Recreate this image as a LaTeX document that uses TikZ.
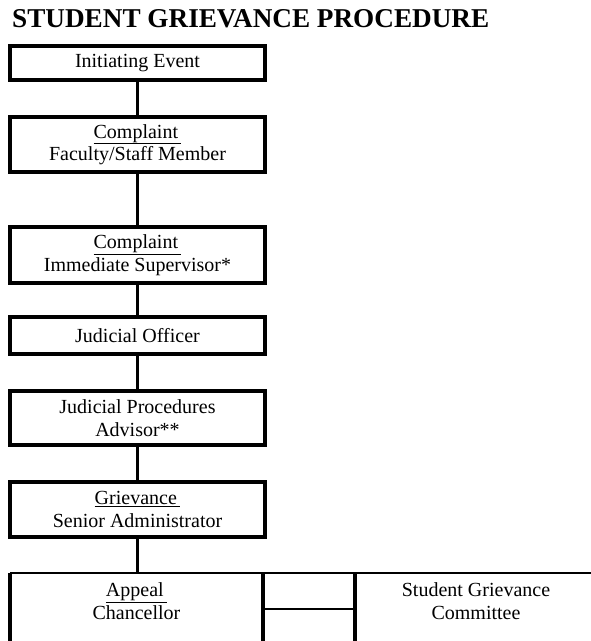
\documentclass[tikz,border=0pt]{standalone}
\usepackage{fontspec}
\setmainfont{Liberation Serif}
\begin{document}
\begin{tikzpicture}[x=1pt,y=1pt]
\tikzset{
  box/.style={draw, line width=3.4pt, inner sep=0pt, outer sep=0pt, align=center,
              minimum width=255pt, font=\fontsize{20}{22.5}\selectfont},
  openbox/.style={inner sep=0pt, outer sep=0pt, minimum height=72pt},
  txt/.style={inner sep=0pt, align=center, font=\fontsize{20}{22.5}\selectfont},
  link/.style={line width=3pt},
  thinline/.style={line width=2.4pt},
  sideline/.style={line width=3.6pt},
  titlefont/.style={font=\fontsize{27.2}{30}\bfseries\selectfont}
}
\useasboundingbox (0,0) rectangle (591,641);
\clip (0,0) rectangle (591,641);
\fill[white] (0,0) rectangle (591,641);

\node[titlefont, anchor=base west, inner sep=0pt] (title) at (12,613) {STUDENT GRIEVANCE PROCEDURE};

\node[box, minimum height=34pt] (b1) at (137.5,578) {Initiating Event};
\node[box, minimum height=55pt] (b2) at (137.5,496.5) {\underline{Complaint\,}\\Faculty/Staff Member};
\node[box, minimum height=56pt] (b3) at (137.5,386) {\underline{Complaint\,}\\Immediate Supervisor*};
\node[box, minimum height=37pt] (b4) at (137.5,305.5) {Judicial Officer};
\node[box, minimum height=54pt] (b5) at (137.5,223) {Judicial Procedures\\Advisor**};
\node[box, minimum height=55pt] (b6) at (137.5,131.5) {\underline{Grievance\,}\\Senior Administrator};

\node[openbox, minimum width=253pt] (appeal) at (136.5,32) {};
\node[openbox, minimum width=242pt] (committee) at (476,32) {};
\node[txt] (appealtxt) at (136.5,40) {\underline{Appeal\,}\\Chancellor};
\node[txt] (committeetxt) at (476,40) {Student Grievance\\Committee};

\draw[thinline] (appeal.north west) -- (appeal.north east) -- (committee.north west) -- (committee.north east);
\draw[sideline] (appeal.north west) -- (appeal.south west);
\draw[sideline] (appeal.north east) -- (appeal.south east);
\draw[sideline] (committee.north west) -- (committee.south west);
\draw[thinline] (appeal.east) -- (committee.west);

\draw[link] (b1) -- (b2);
\draw[link] (b2) -- (b3);
\draw[link] (b3) -- (b4);
\draw[link] (b4) -- (b5);
\draw[link] (b5) -- (b6);
\draw[link] (b6.south) -- (b6.south |- appeal.north);
\end{tikzpicture}
\end{document}
